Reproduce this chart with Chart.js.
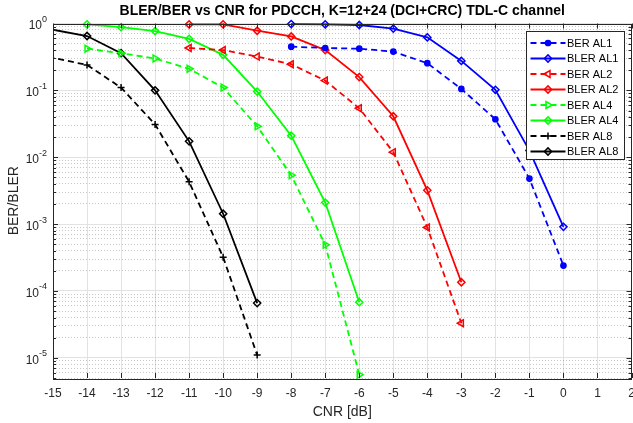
<!DOCTYPE html>
<html>
<head>
<meta charset="utf-8">
<script src="https://cdn.jsdelivr.net/npm/chart.js@4/dist/chart.umd.min.js"></script>
<style>
  html, body { margin: 0; padding: 0; background: #fff; }
</style>
</head>
<body>
<canvas id="c" width="633" height="423"></canvas>
<script>
const FONT = "'Liberation Sans', Arial, Helvetica, sans-serif";
const TITLE = "BLER/BER vs CNR for PDCCH, K=12+24 (DCI+CRC) TDL-C channel";

// CNR points [dB] per aggregation level
const cnrAL1 = [-8, -7, -6, -5, -4, -3, -2, -1, 0];
const cnrAL2 = [-11, -10, -9, -8, -7, -6, -5, -4, -3];
const cnrAL4 = [-14, -13, -12, -11, -10, -9, -8, -7, -6];
const cnrAL8 = [-16, -14, -13, -12, -11, -10, -9];

const berAL1 = [0.45, 0.43, 0.42, 0.38, 0.255, 0.105, 0.037, 0.0048, 0.00024];
const blerAL1 = [0.98, 0.97, 0.95, 0.84, 0.62, 0.276, 0.102, 0.0126, 0.00091];
const berAL2 = [0.43, 0.40, 0.32, 0.246, 0.14, 0.054, 0.0119, 0.00089, 0.000033];
const blerAL2 = [0.97, 0.97, 0.78, 0.64, 0.40, 0.158, 0.041, 0.0032, 0.000135];
const berAL4 = [0.42, 0.36, 0.30, 0.21, 0.11, 0.029, 0.0054, 0.00049, 0.0000056];
const blerAL4 = [0.97, 0.88, 0.77, 0.59, 0.34, 0.096, 0.021, 0.0021, 0.000068];
const berAL8 = [0.39, 0.24, 0.11, 0.031, 0.0043, 0.00032, 0.000011];
const blerAL8 = [1.0, 0.65, 0.36, 0.10, 0.0173, 0.00143, 0.000066];

const xTicks = [-15, -14, -13, -12, -11, -10, -9, -8, -7, -6, -5, -4, -3, -2, -1, 0, 1, 2];
const yMin = 5e-6, yMax = 1;

const pts = (xs, ys) => xs.map((x, i) => ({ x: x, y: ys[i] }));

function series(label, xs, ys, color, dashed, style, rot, filled, radius) {
  return {
    label: label,
    data: pts(xs, ys),
    borderColor: color,
    backgroundColor: color,
    borderWidth: 1.8,
    borderDash: dashed ? [6, 4] : [],
    pointStyle: style,
    pointRotation: rot,
    pointRadius: radius,
    pointBorderWidth: 1.5,
    pointBorderColor: color,
    pointBackgroundColor: filled ? color : 'rgba(0,0,0,0)',
    tension: 0,
    clip: { left: 0, right: 0, top: 6, bottom: 6 },
  };
}

const datasets = [
  series("BER AL1", cnrAL1, berAL1, "#0000ff", true, "circle", 0, true, 2.6),
  series("BLER AL1", cnrAL1, blerAL1, "#0000ff", false, "rectRot", 0, false, 3.6),
  series("BER AL2", cnrAL2, berAL2, "#ff0000", true, "triangle", -90, false, 4),
  series("BLER AL2", cnrAL2, blerAL2, "#ff0000", false, "rectRot", 0, false, 3.6),
  series("BER AL4", cnrAL4, berAL4, "#00ff00", true, "triangle", 90, false, 4),
  series("BLER AL4", cnrAL4, blerAL4, "#00ff00", false, "rectRot", 0, false, 3.6),
  series("BER AL8", cnrAL8, berAL8, "#000000", true, "cross", 0, false, 3.5),
  series("BLER AL8", cnrAL8, blerAL8, "#000000", false, "rectRot", 0, false, 3.6),
];

const isDecade = v => Math.abs(Math.log10(v) - Math.round(Math.log10(v))) < 1e-9;

function logTicks() {
  const out = [];
  for (let e = -6; e <= 0; e++) {
    for (let m = 1; m <= 9; m++) {
      const v = m * Math.pow(10, e);
      if (v >= yMin * 0.999 && v <= yMax * 1.001) out.push(v);
    }
  }
  return out;
}

const noPad = s => { s.paddingLeft = 0; s.paddingRight = 0; s.paddingTop = 0; s.paddingBottom = 0; };

// box, inward tick marks, 10^n labels and legend, drawn like the original figure
const frame = {
  id: 'frame',
  afterDatasetsDraw(chart) {
    const { ctx, chartArea: a, scales } = chart;
    ctx.save();
    ctx.strokeStyle = '#262626';
    ctx.lineWidth = 1;
    ctx.beginPath();
    scales.x.ticks.forEach(t => {
      const px = Math.round(scales.x.getPixelForValue(t.value)) + 0.5;
      ctx.moveTo(px, a.bottom); ctx.lineTo(px, a.bottom - 5);
      ctx.moveTo(px, a.top); ctx.lineTo(px, a.top + 5);
    });
    scales.y.ticks.forEach(t => {
      const py = Math.round(scales.y.getPixelForValue(t.value)) + 0.5;
      const len = isDecade(t.value) ? 5 : 3;
      ctx.moveTo(a.left, py); ctx.lineTo(a.left + len, py);
      ctx.moveTo(a.right, py); ctx.lineTo(a.right - len, py);
    });
    ctx.stroke();
    ctx.strokeRect(Math.round(a.left) + 0.5, Math.round(a.top) + 0.5,
      Math.round(a.right - a.left) - 1, Math.round(a.bottom - a.top));

    // y tick labels as 10 with a raised exponent
    ctx.fillStyle = '#262626';
    ctx.textBaseline = 'middle';
    ctx.textAlign = 'left';
    scales.y.ticks.filter(t => isDecade(t.value)).forEach(t => {
      const py = scales.y.getPixelForValue(t.value);
      const exp = String(Math.round(Math.log10(t.value)));
      ctx.font = '12px ' + FONT;
      const wBase = ctx.measureText('10').width;
      ctx.font = '9px ' + FONT;
      const wExp = ctx.measureText(exp).width;
      const x0 = a.left - 6 - wExp - wBase;
      ctx.font = '12px ' + FONT;
      ctx.fillText('10', x0, py + 2.5);
      ctx.font = '9px ' + FONT;
      ctx.fillText(exp, x0 + wBase, py - 4);
    });
    ctx.restore();
  },
  afterDraw(chart) {
    const ctx = chart.ctx;
    const bx = 526.5, by = 31.5, bw = 98, bh = 128;
    ctx.save();
    ctx.fillStyle = '#fff';
    ctx.fillRect(bx, by, bw, bh);
    ctx.strokeStyle = '#262626';
    ctx.lineWidth = 1;
    ctx.strokeRect(bx, by, bw, bh);
    chart.data.datasets.forEach((ds, i) => {
      const y = by + 11.5 + i * 15.5;
      ctx.save();
      ctx.strokeStyle = ds.borderColor;
      ctx.lineWidth = ds.borderWidth;
      ctx.setLineDash(ds.borderDash);
      ctx.beginPath();
      ctx.moveTo(bx + 4, y); ctx.lineTo(bx + 39, y);
      ctx.stroke();
      ctx.setLineDash([]);
      ctx.fillStyle = ds.pointBackgroundColor;
      ctx.lineWidth = ds.pointBorderWidth;
      Chart.helpers.drawPoint(ctx, {
        pointStyle: ds.pointStyle, rotation: ds.pointRotation,
        radius: ds.pointRadius, borderWidth: ds.pointBorderWidth
      }, bx + 21.5, y);
      ctx.restore();
      ctx.fillStyle = '#000';
      ctx.font = '11px ' + FONT;
      ctx.textBaseline = 'middle';
      ctx.textAlign = 'left';
      ctx.fillText(ds.label, bx + 40.5, y + 0.5);
    });
    ctx.restore();
  }
};

new Chart(document.getElementById('c').getContext('2d'), {
  type: 'line',
  data: { datasets: datasets },
  plugins: [frame],
  options: {
    responsive: false,
    animation: false,
    devicePixelRatio: 1,
    layout: { autoPadding: false, padding: { left: 0, right: 1.5, top: 0, bottom: 0 } },
    plugins: {
      legend: { display: false },
      tooltip: { enabled: false },
      title: {
        display: true,
        fullSize: false,
        text: TITLE,
        color: '#000',
        font: { family: FONT, size: 14, weight: 'bold' },
        padding: { top: 3.2, bottom: 3.5 }
      }
    },
    scales: {
      x: {
        type: 'linear',
        min: -15,
        max: 2,
        afterBuildTicks: s => { s.ticks = xTicks.map(v => ({ value: v })); },
        afterFit: s => { s.height = 45; noPad(s); },
        ticks: {
          color: '#262626',
          font: { family: FONT, size: 12 },
          padding: 8,
          maxRotation: 0,
          autoSkip: false,
          callback: v => String(v)
        },
        grid: { color: '#e2e2e2', lineWidth: 1, drawTicks: false },
        border: { display: false },
        title: {
          display: true,
          text: 'CNR [dB]',
          color: '#262626',
          font: { family: FONT, size: 14 },
          padding: { top: 0, bottom: 2.5 }
        }
      },
      y: {
        type: 'logarithmic',
        position: 'left',
        min: yMin,
        max: yMax,
        afterBuildTicks: s => { s.ticks = logTicks().map(v => ({ value: v, major: isDecade(v) })); },
        afterFit: s => { s.width = 53; noPad(s); },
        ticks: {
          color: '#262626',
          font: { family: FONT, size: 12 },
          padding: 6,
          autoSkip: false,
          callback: () => ''
        },
        grid: {
          drawTicks: false,
          lineWidth: 1,
          color: c => (c.tick && isDecade(c.tick.value)) ? '#e2e2e2' : 'rgba(0,0,0,0)'
        },
        border: { display: false },
        title: {
          display: true,
          text: 'BER/BLER',
          color: '#262626',
          font: { family: FONT, size: 14 },
          padding: { top: 5.5, bottom: 0 }
        }
      },
      y2: {
        type: 'logarithmic',
        position: 'left',
        min: yMin,
        max: yMax,
        afterBuildTicks: s => { s.ticks = logTicks().filter(v => !isDecade(v)).map(v => ({ value: v })); },
        afterFit: s => { s.width = 0; noPad(s); },
        ticks: { display: false },
        grid: { drawTicks: false, lineWidth: 1, color: 'rgba(0,0,0,0.22)' },
        border: { display: false, dash: [1, 2] }
      }
    }
  }
});
</script>
</body>
</html>
